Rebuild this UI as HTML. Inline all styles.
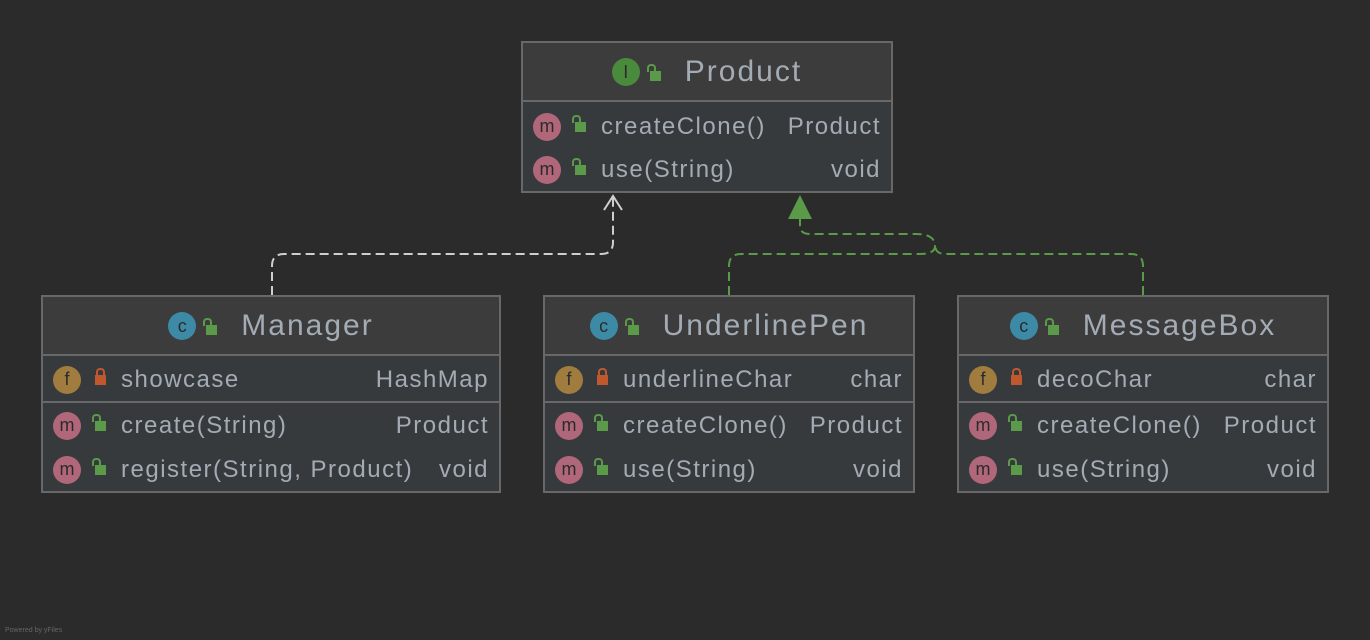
<!DOCTYPE html>
<html><head><meta charset="utf-8"><style>
body{margin:0;width:1370px;height:640px;background:#2b2b2b;position:relative;overflow:hidden;font-family:"Liberation Sans","DejaVu Sans",sans-serif;color:#a3abb5}
.box{position:absolute;border:2px solid #686868;background:#373a3d;box-sizing:border-box}
.hd{position:absolute;left:0;right:0;top:0;background:#3c3c3c;border-bottom:2px solid #686868;box-sizing:border-box;font-size:30px;text-align:center;letter-spacing:2px}
.hd span{vertical-align:middle}
.row{position:absolute;left:0;right:0;height:44px;font-size:24px;letter-spacing:1.5px}
.sep{position:absolute;left:0;right:0;height:2px;background:#686868}
.ic{position:absolute;left:10px;top:8px;width:28px;height:28px;border-radius:50%;font-size:18px;line-height:27px;text-align:center;color:#2b2b2b;letter-spacing:0}
.m{background:#b0677a}.f{background:#a07c3e}
.ck{position:absolute;left:52px;top:17px;width:11px;height:10px;background:#5a9a48}
.ck:before{content:"";position:absolute;left:-3px;top:-7px;width:5px;height:6px;border:2px solid #5a9a48;border-bottom:none;border-radius:4px 4px 0 0}
.ck.p{background:#c0582e;left:52px}
.ck.p:before{border-color:#c0582e;left:1px}
.t{position:absolute;left:78px;top:8px}
.r{position:absolute;right:10px;top:8px}
.hic{display:inline-block;width:28px;height:28px;border-radius:50%;background:#3d8aa6;color:#2b2b2b;font-size:18px;line-height:28px;text-align:center;margin-right:10px;letter-spacing:0}
.hlk{display:inline-block;position:relative;width:11px;height:10px;background:#5a9a48;margin-right:24px;top:4px}
.hlk:before{content:"";position:absolute;left:-3px;top:-7px;width:5px;height:6px;border:2px solid #5a9a48;border-bottom:none;border-radius:4px 4px 0 0}
</style></head><body>

<svg width="1370" height="640" style="position:absolute;left:0;top:0">
<path d="M272 295 V266 Q272 254 284 254 H601 Q613 254 613 242 V196" fill="none" stroke="#cfcfcf" stroke-width="2" stroke-dasharray="9,5"/>
<path d="M604 210 L613 196 L622 210" fill="none" stroke="#cfcfcf" stroke-width="2"/>
<path d="M729 295 V266 Q729 254 741 254 H920 Q935 254 935 246 Q935 234 916 234 H810 Q800 234 800 226 V218" fill="none" stroke="#5a9a48" stroke-width="2" stroke-dasharray="9,5"/>
<path d="M1143 295 V266 Q1143 254 1131 254 H945 Q936 254 935 246" fill="none" stroke="#5a9a48" stroke-width="2" stroke-dasharray="9,5"/>
<path d="M788 219 L800 195 L812 219 Z" fill="#5a9a48"/>
</svg>

<div class="box" style="left:521px;top:41px;width:372px;height:152px">
 <div class="hd" style="height:59px;line-height:56px"><span class="hic" style="background:#4a8a3c">I</span><span class="hlk"></span><span>Product</span></div>
 <div class="row" style="top:62px"><div class="ic m">m</div><div class="ck"></div><div class="t">createClone()</div><div class="r">Product</div></div>
 <div class="row" style="top:105px"><div class="ic m">m</div><div class="ck"></div><div class="t">use(String)</div><div class="r">void</div></div>
</div>

<div class="box" style="left:41px;top:295px;width:460px;height:198px">
 <div class="hd" style="height:59px;line-height:56px"><span class="hic">c</span><span class="hlk"></span><span>Manager</span></div>
 <div class="row" style="top:61px"><div class="ic f">f</div><div class="ck p"></div><div class="t">showcase</div><div class="r">HashMap</div></div>
 <div class="sep" style="top:104px"></div>
 <div class="row" style="top:107px"><div class="ic m">m</div><div class="ck"></div><div class="t">create(String)</div><div class="r">Product</div></div>
 <div class="row" style="top:151px"><div class="ic m">m</div><div class="ck"></div><div class="t">register(String, Product)</div><div class="r">void</div></div>
</div>

<div class="box" style="left:543px;top:295px;width:372px;height:198px">
 <div class="hd" style="height:59px;line-height:56px"><span class="hic">c</span><span class="hlk"></span><span>UnderlinePen</span></div>
 <div class="row" style="top:61px"><div class="ic f">f</div><div class="ck p"></div><div class="t">underlineChar</div><div class="r">char</div></div>
 <div class="sep" style="top:104px"></div>
 <div class="row" style="top:107px"><div class="ic m">m</div><div class="ck"></div><div class="t">createClone()</div><div class="r">Product</div></div>
 <div class="row" style="top:151px"><div class="ic m">m</div><div class="ck"></div><div class="t">use(String)</div><div class="r">void</div></div>
</div>

<div class="box" style="left:957px;top:295px;width:372px;height:198px">
 <div class="hd" style="height:59px;line-height:56px"><span class="hic">c</span><span class="hlk"></span><span>MessageBox</span></div>
 <div class="row" style="top:61px"><div class="ic f">f</div><div class="ck p"></div><div class="t">decoChar</div><div class="r">char</div></div>
 <div class="sep" style="top:104px"></div>
 <div class="row" style="top:107px"><div class="ic m">m</div><div class="ck"></div><div class="t">createClone()</div><div class="r">Product</div></div>
 <div class="row" style="top:151px"><div class="ic m">m</div><div class="ck"></div><div class="t">use(String)</div><div class="r">void</div></div>
</div>

<div style="position:absolute;left:5px;top:627px;font-size:7px;color:#666">Powered by yFiles</div>
</body></html>
